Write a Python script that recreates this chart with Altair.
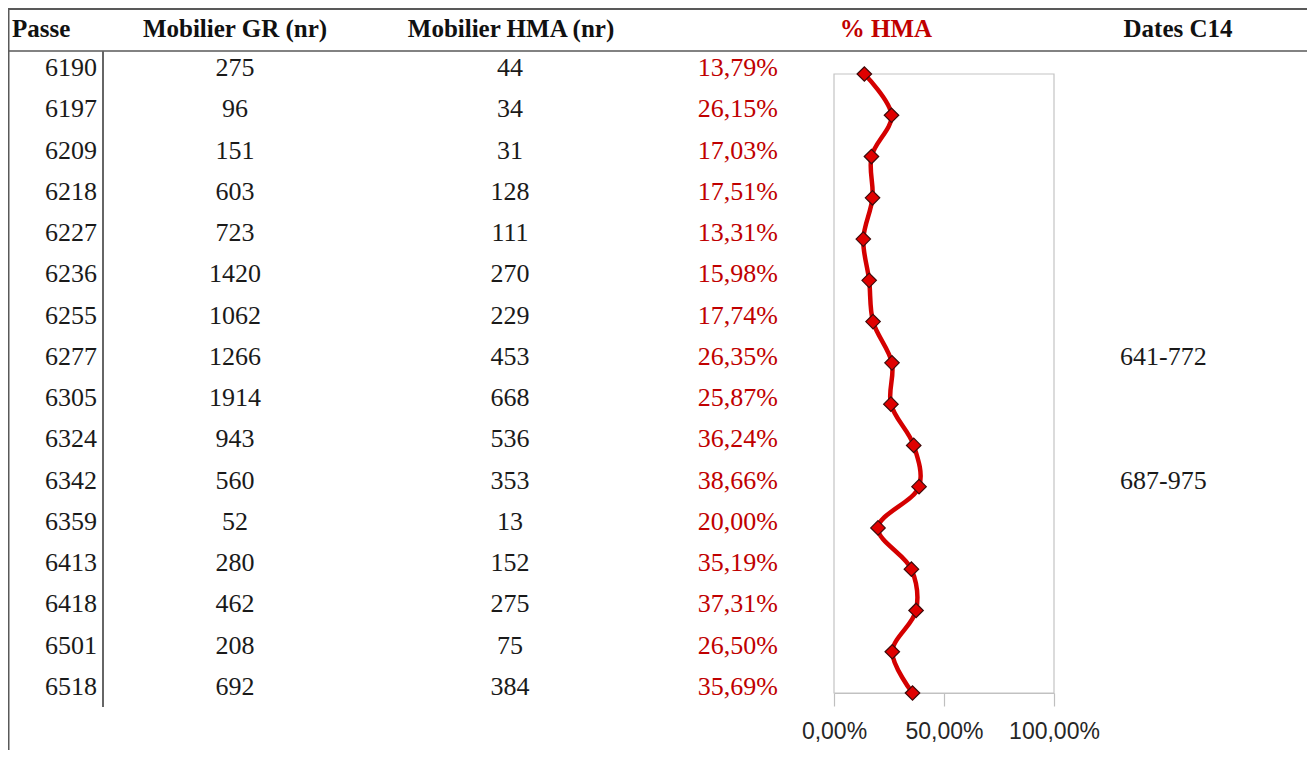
import altair as alt
import pandas as pd

# ---- data ----
passe = [6190, 6197, 6209, 6218, 6227, 6236, 6255, 6277, 6305, 6324, 6342, 6359, 6413, 6418, 6501, 6518]
mobilier_gr = [275, 96, 151, 603, 723, 1420, 1062, 1266, 1914, 943, 560, 52, 280, 462, 208, 692]
mobilier_hma = [44, 34, 31, 128, 111, 270, 229, 453, 668, 536, 353, 13, 152, 275, 75, 384]
pct_hma = [13.79, 26.15, 17.03, 17.51, 13.31, 15.98, 17.74, 26.35, 25.87, 36.24, 38.66, 20.00, 35.19, 37.31, 26.50, 35.69]
dates_c14 = ["", "", "", "", "", "", "", "641-772", "", "", "687-975", "", "", "", "", ""]
headers = ["Passe", "Mobilier GR (nr)", "Mobilier HMA (nr)", "% HMA", "Dates C14"]
x_ticks = [0, 50, 100]

df = pd.DataFrame({
    "row": list(range(len(passe))),
    "passe": [str(v) for v in passe],
    "gr": [str(v) for v in mobilier_gr],
    "hma": [str(v) for v in mobilier_hma],
    "pct": pct_hma,
    "pct_label": [f"{v:.2f}".replace(".", ",") + "%" for v in pct_hma],
    "dates": dates_c14,
})

W, H = 1299, 742
SERIF = "Liberation Serif"
RED_TXT = "#c00000"
LINE_COL = "#595959"

yscale = alt.Scale(domain=[0, len(passe) - 1], range=[66, 685])
xscale = alt.Scale(domain=[0, 100], range=[826, 1046])
one = pd.DataFrame({"a": [0]})

layers = []

# table rules
def hrule(y, x1, x2, w, color=LINE_COL):
    return alt.Chart(one).mark_rule(color=color, strokeWidth=w).encode(
        x=alt.value(x1), x2=alt.value(x2), y=alt.value(y))

def vrule(x, y1, y2, w, color=LINE_COL):
    return alt.Chart(one).mark_rule(color=color, strokeWidth=w).encode(
        y=alt.value(y1), y2=alt.value(y2), x=alt.value(x))

layers += [
    hrule(1, 0, W, 2),
    hrule(43, 0, W, 1.5),
    vrule(0.5, 0, H, 2),
    vrule(95, 43, 699, 2, "#666666"),
]

# headers
def header(text, x, align, color="#111111"):
    return alt.Chart(pd.DataFrame({"h": [text]})).mark_text(
        align=align, baseline="alphabetic", font=SERIF, fontSize=25,
        fontWeight="bold", color=color).encode(
        x=alt.value(x), y=alt.value(29), text="h:N")

layers += [
    header(headers[0], 4, "left"),
    header(headers[1], 227, "center"),
    header(headers[2], 503, "center"),
    header(headers[3], 878, "center", RED_TXT),
    header(headers[4], 1170, "center"),
]

# table body columns
def col_text(field, x, align, color="#1a1a1a"):
    return alt.Chart(df).mark_text(
        align=align, baseline="alphabetic", dy=2, font=SERIF, fontSize=26,
        color=color).encode(
        x=alt.value(x),
        y=alt.Y("row:Q", scale=yscale, axis=None),
        text=f"{field}:N")

layers += [
    col_text("passe", 89, "right"),
    col_text("gr", 227, "center"),
    col_text("hma", 502, "center"),
    col_text("pct_label", 770, "right", RED_TXT),
    col_text("dates", 1112, "left"),
]

# mini chart
xaxis = alt.Axis(
    values=x_ticks,
    labelExpr="replace(format(datum.value, '.2f'), '.', ',') + '%'",
    grid=False, domainColor="#bfbfbf", domainWidth=1.2,
    tickColor="#bfbfbf", tickSize=13, tickWidth=1.2,
    labelFont="Liberation Sans", labelFontSize=23, labelColor="#262626",
    labelPadding=14, labelFlush=False, offset=685 - H, title=None)

frame = alt.Chart(one).mark_rect(fillOpacity=0, stroke="#c4c4c4", strokeWidth=1.2).encode(
    x=alt.X(datum=0, scale=xscale, axis=xaxis),
    x2=alt.datum(100),
    y=alt.Y(datum=0, scale=yscale, axis=None),
    y2=alt.datum(len(passe) - 1),
)

line = alt.Chart(df).mark_line(interpolate="catmull-rom", color="#d40000", strokeWidth=4.5).encode(
    x=alt.X("pct:Q", scale=xscale, axis=xaxis),
    y=alt.Y("row:Q", scale=yscale, axis=None),
    order="row:Q",
)

points = alt.Chart(df).mark_point(
    shape="diamond", filled=True, size=210, fill="#e00000",
    stroke="#3d0a0a", strokeWidth=1.2, opacity=1).encode(
    x=alt.X("pct:Q", scale=xscale, axis=xaxis),
    y=alt.Y("row:Q", scale=yscale, axis=None),
)

layers += [frame, line, points]

chart = alt.layer(*layers).properties(
    width=W, height=H,
    autosize=alt.AutoSizeParams(type="none"),
    padding=0,
).configure_view(strokeWidth=0)

chart.save("out.html", embed_options={"renderer": "svg", "actions": False})
